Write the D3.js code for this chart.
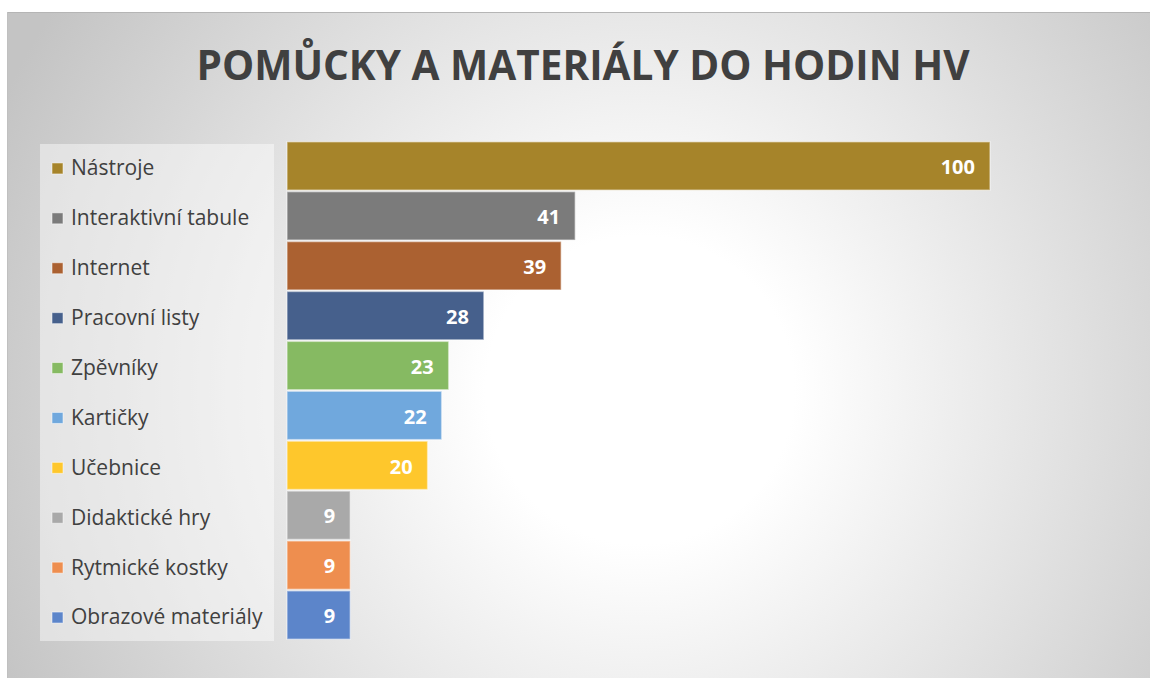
<!DOCTYPE html>
<html>
<head>
<meta charset="utf-8">
<script src="https://cdn.jsdelivr.net/npm/d3@7"></script>
<style>
  body { margin: 0; background: #fff; }
  svg text { font-family: "Open Sans", sans-serif; }
</style>
</head>
<body>
<div id="chart"></div>
<script>
// data
var categories = ["Nástroje", "Interaktivní tabule", "Internet", "Pracovní listy", "Zpěvníky",
                  "Kartičky", "Učebnice", "Didaktické hry", "Rytmické kostky", "Obrazové materiály"];
var values = [100, 41, 39, 28, 23, 22, 20, 9, 9, 9];
var colors = ["#a6842a", "#7b7b7b", "#ab6131", "#46608c", "#86ba62",
              "#70a8dd", "#fec72c", "#a9a9a9", "#ee8e4f", "#5c85ca"];
var title = "POMŮCKY A MATERIÁLY DO HODIN HV";

var W = 1150, H = 678;
var frame = {x: 7, y: 12};
var margin = {top: 141, left: 287, right: 160, bottom: 38};

var svg = d3.select("#chart").append("svg")
    .attr("width", W)
    .attr("height", H);

var defs = svg.append("defs");
var grad = defs.append("radialGradient")
    .attr("id", "bg")
    .attr("gradientUnits", "userSpaceOnUse")
    .attr("cx", 640).attr("cy", 390).attr("r", 700);
grad.append("stop").attr("offset", "0%").attr("stop-color", "#ffffff");
grad.append("stop").attr("offset", "22%").attr("stop-color", "#ffffff");
grad.append("stop").attr("offset", "100%").attr("stop-color", "#c4c4c4");

// chart area
svg.append("rect")
    .attr("x", frame.x).attr("y", frame.y)
    .attr("width", W - frame.x).attr("height", H - frame.y)
    .attr("fill", "url(#bg)");
svg.append("line")
    .attr("x1", frame.x).attr("x2", W)
    .attr("y1", frame.y + 0.5).attr("y2", frame.y + 0.5)
    .attr("stroke", "#b5b5b5");
svg.append("line")
    .attr("x1", frame.x + 0.5).attr("x2", frame.x + 0.5)
    .attr("y1", frame.y).attr("y2", H)
    .attr("stroke", "#c0c0c0");

// title (squeezed a little, the original font is narrower)
svg.append("text")
    .attr("x", 583)
    .attr("y", 80)
    .attr("text-anchor", "middle")
    .attr("fill", "#404040")
    .attr("textLength", 773)
    .attr("lengthAdjust", "spacingAndGlyphs")
    .style("font-size", "42px")
    .style("font-weight", "bold")
    .text(title);

var x = d3.scaleLinear()
    .domain([0, 100])
    .range([margin.left, 990]);

var y = d3.scaleBand()
    .domain(categories)
    .range([margin.top, H - margin.bottom])
    .padding(0);

// legend box
var legend = svg.append("g");
legend.append("rect")
    .attr("x", 40)
    .attr("y", y(categories[0]) + 3)
    .attr("width", 234)
    .attr("height", y.bandwidth() * categories.length - 2)
    .attr("fill", "#ffffff")
    .attr("fill-opacity", 0.45);

var item = legend.selectAll("g.item")
    .data(categories)
    .enter().append("g")
    .attr("class", "item")
    .attr("transform", function(d) { return "translate(52," + (y(d) + y.bandwidth() / 2 + 2) + ")"; });
item.append("rect")
    .attr("x", 0).attr("y", -5)
    .attr("width", 11).attr("height", 11)
    .attr("fill", function(d, i) { return colors[i]; })
    .attr("stroke", "#ffffff").attr("stroke-opacity", 0.5);
item.append("text")
    .attr("x", 19)
    .attr("dy", "0.35em")
    .attr("fill", "#404040")
    .style("font-size", "21px")
    .text(function(d) { return d; });

// bars
var bar = svg.selectAll("g.bar")
    .data(categories)
    .enter().append("g")
    .attr("class", "bar");
bar.append("rect")
    .attr("x", x(0))
    .attr("y", function(d) { return y(d) + 0.75; })
    .attr("width", function(d, i) { return x(values[i]) - x(0); })
    .attr("height", y.bandwidth() - 1.5)
    .attr("fill", function(d, i) { return colors[i]; })
    .attr("stroke", "#ffffff")
    .attr("stroke-opacity", 0.45)
    .attr("stroke-width", 1.5);
bar.append("text")
    .attr("x", function(d, i) { return x(values[i]) - 15; })
    .attr("y", function(d) { return y(d) + y.bandwidth() / 2 + 1; })
    .attr("dy", "0.36em")
    .attr("text-anchor", "end")
    .attr("fill", "#ffffff")
    .style("font-size", "20px")
    .style("font-weight", "bold")
    .text(function(d, i) { return values[i]; });
</script>
</body>
</html>
